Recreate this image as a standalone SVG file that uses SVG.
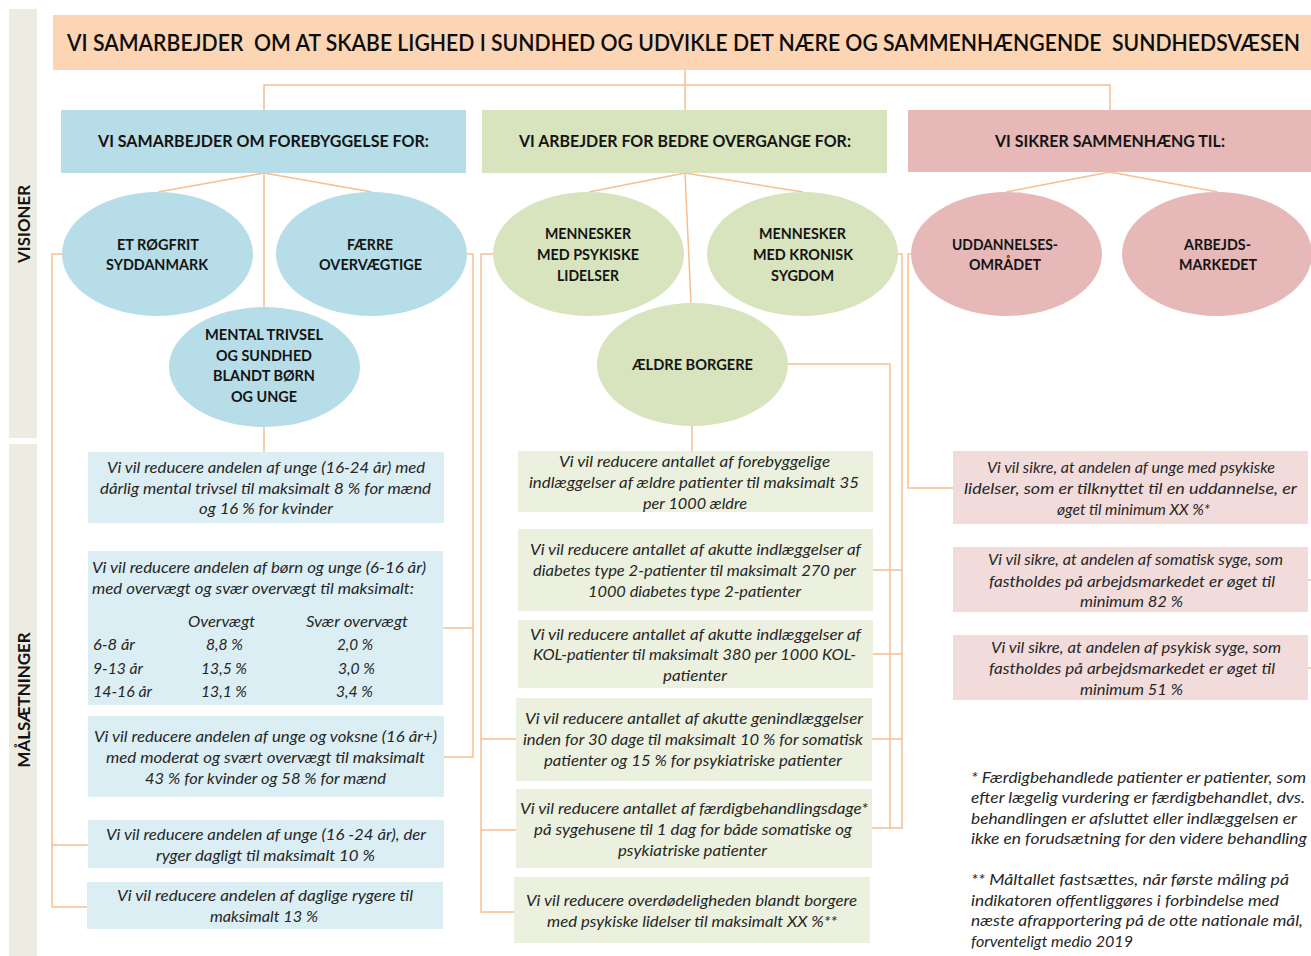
<svg xmlns="http://www.w3.org/2000/svg" width="1311" height="956" viewBox="0 0 1311 956">
<style>
.c{fill:none;stroke:#F7BF8F;stroke-width:1.5}
.band{fill:#EEECE1}
.t{font-family:Lato,"Liberation Sans",sans-serif;font-style:italic;font-size:15.5px;fill:#262626}
.e{font-family:Lato,"Liberation Sans",sans-serif;font-weight:bold;font-size:16px;fill:#141414}
.h{font-family:Lato,"Liberation Sans",sans-serif;font-weight:bold;font-size:17px;fill:#141414}
.s{font-family:Lato,"Liberation Sans",sans-serif;font-weight:bold;font-size:17.5px;fill:#141414}
.ttl{font-family:Lato,"Liberation Sans",sans-serif;font-weight:600;font-size:22px;fill:#0d0d0d;white-space:pre}
.hb{fill:#B7DEE8}.hg{fill:#D7E4BD}.hp{fill:#E6B9B8}
.bb{fill:#DBEEF4}.bg{fill:#EBF1DE}.bp{fill:#F2DCDB}
</style>
<rect width="1311" height="956" fill="#FFFFFF"/>

<g id="side-visioner">
<rect class="band" x="9" y="9" width="28" height="429"/>
<text class="s" transform="translate(30,224) rotate(-90)" x="-39" y="0" textLength="78" lengthAdjust="spacingAndGlyphs">VISIONER</text>
</g>
<g id="side-maalsaetninger">
<rect class="band" x="9" y="444" width="28" height="512"/>
<text class="s" transform="translate(30,700) rotate(-90)" x="-67.5" y="0" textLength="135" lengthAdjust="spacingAndGlyphs">MÅLSÆTNINGER</text>
</g>

<g id="connectors">
<path class="c" d="M685,70V110M264,110V85H1110V110"/>
<path class="c" d="M264,173L158,192M264,173L372,192M264,173V307"/>
<path class="c" d="M685,173L589,192M685,173L803,192M685,173L691,303"/>
<path class="c" d="M1110,172L1006,192M1110,172L1218,192"/>
<path class="c" d="M264,427V452"/>
<path class="c" d="M692,426V451"/>
<path class="c" d="M62,254H52V907H87M52,845H88"/>
<path class="c" d="M467,254H473V757H444M473,628H443"/>
<path class="c" d="M493,254H481V912H514M481,739H516M481,830H516"/>
<path class="c" d="M898,254H902V828H872M873,570H902M873,654H902M872,739H902"/>
<path class="c" d="M788,364H890V828"/>
<path class="c" d="M911,254H908V488H953"/>
<path class="c" d="M1308,580H1311M1308,668H1311"/>
</g>

<g id="title">
<rect x="53" y="15" width="1258" height="55" fill="#FCD5B5"/>
<text class="ttl" x="67" y="51" textLength="1233" lengthAdjust="spacingAndGlyphs">VI SAMARBEJDER  OM AT SKABE LIGHED I SUNDHED OG UDVIKLE DET NÆRE OG SAMMENHÆNGENDE  SUNDHEDSVÆSEN</text>
</g>

<g id="header-forebyggelse">
<rect class="hb" x="61" y="110" width="405" height="63"/>
<text class="h" x="98" y="147" textLength="331" lengthAdjust="spacingAndGlyphs">VI SAMARBEJDER OM FOREBYGGELSE FOR:</text>
</g>
<g id="header-overgange">
<rect class="hg" x="482" y="110" width="405" height="63"/>
<text class="h" x="519" y="147" textLength="332" lengthAdjust="spacingAndGlyphs">VI ARBEJDER FOR BEDRE OVERGANGE FOR:</text>
</g>
<g id="header-sammenhaeng">
<rect class="hp" x="908" y="110" width="403" height="62"/>
<text class="h" x="995" y="147" textLength="230" lengthAdjust="spacingAndGlyphs">VI SIKRER SAMMENHÆNG TIL:</text>
</g>

<g id="v-roegfrit">
<ellipse class="hb" cx="157.5" cy="254" rx="95.5" ry="62"/>
<text class="e" x="117" y="250" textLength="82" lengthAdjust="spacingAndGlyphs">ET RØGFRIT</text>
<text class="e" x="106" y="270" textLength="102" lengthAdjust="spacingAndGlyphs">SYDDANMARK</text>
</g>
<g id="v-overvaegtige">
<ellipse class="hb" cx="371.5" cy="254" rx="95.5" ry="62"/>
<text class="e" x="347" y="250" textLength="46" lengthAdjust="spacingAndGlyphs">FÆRRE</text>
<text class="e" x="319" y="270" textLength="103" lengthAdjust="spacingAndGlyphs">OVERVÆGTIGE</text>
</g>
<g id="v-mental">
<ellipse class="hb" cx="264.5" cy="367" rx="95.5" ry="60"/>
<text class="e" x="205" y="340" textLength="118" lengthAdjust="spacingAndGlyphs">MENTAL TRIVSEL</text>
<text class="e" x="216" y="361" textLength="96" lengthAdjust="spacingAndGlyphs">OG SUNDHED</text>
<text class="e" x="213" y="381" textLength="102" lengthAdjust="spacingAndGlyphs">BLANDT BØRN</text>
<text class="e" x="231" y="402" textLength="66" lengthAdjust="spacingAndGlyphs">OG UNGE</text>
</g>

<g id="v-psykiske">
<ellipse class="hg" cx="588.5" cy="254" rx="95.5" ry="62"/>
<text class="e" x="545" y="239" textLength="86" lengthAdjust="spacingAndGlyphs">MENNESKER</text>
<text class="e" x="537" y="260" textLength="102" lengthAdjust="spacingAndGlyphs">MED PSYKISKE</text>
<text class="e" x="557" y="281" textLength="62" lengthAdjust="spacingAndGlyphs">LIDELSER</text>
</g>
<g id="v-kronisk">
<ellipse class="hg" cx="802.5" cy="254" rx="95.5" ry="62"/>
<text class="e" x="759" y="239" textLength="87" lengthAdjust="spacingAndGlyphs">MENNESKER</text>
<text class="e" x="753" y="260" textLength="100" lengthAdjust="spacingAndGlyphs">MED KRONISK</text>
<text class="e" x="771" y="281" textLength="63" lengthAdjust="spacingAndGlyphs">SYGDOM</text>
</g>
<g id="v-aeldre">
<ellipse class="hg" cx="692.5" cy="364.5" rx="95.5" ry="61.5"/>
<text class="e" x="632" y="370" textLength="121" lengthAdjust="spacingAndGlyphs">ÆLDRE BORGERE</text>
</g>

<g id="v-uddannelse">
<ellipse class="hp" cx="1006.5" cy="254" rx="95.5" ry="62"/>
<text class="e" x="952" y="250" textLength="106" lengthAdjust="spacingAndGlyphs">UDDANNELSES-</text>
<text class="e" x="969" y="270" textLength="72" lengthAdjust="spacingAndGlyphs">OMRÅDET</text>
</g>
<g id="v-arbejdsmarked">
<ellipse class="hp" cx="1217" cy="254" rx="95" ry="62"/>
<text class="e" x="1184" y="250" textLength="67" lengthAdjust="spacingAndGlyphs">ARBEJDS-</text>
<text class="e" x="1179" y="270" textLength="78" lengthAdjust="spacingAndGlyphs">MARKEDET</text>
</g>

<g id="m-mental">
<rect class="bb" x="88" y="452" width="356" height="71"/>
<text class="t" x="107" y="472.5" textLength="318" lengthAdjust="spacingAndGlyphs">Vi vil reducere andelen af unge (16-24 år) med</text>
<text class="t" x="100" y="493.5" textLength="331" lengthAdjust="spacingAndGlyphs">dårlig mental trivsel til maksimalt 8 % for mænd</text>
<text class="t" x="199" y="514" textLength="134" lengthAdjust="spacingAndGlyphs">og 16 % for kvinder</text>
</g>
<g id="m-boern-overvaegt">
<rect class="bb" x="88" y="551" width="355" height="154"/>
<text class="t" x="92" y="573" textLength="334" lengthAdjust="spacingAndGlyphs">Vi vil reducere andelen af børn og unge (6-16 år)</text>
<text class="t" x="92" y="593.5" textLength="322" lengthAdjust="spacingAndGlyphs">med overvægt og svær overvægt til maksimalt:</text>
<text class="t" x="188" y="627" textLength="67" lengthAdjust="spacingAndGlyphs">Overvægt</text>
<text class="t" x="306" y="627" textLength="102" lengthAdjust="spacingAndGlyphs">Svær overvægt</text>
<text class="t" x="93" y="650" textLength="42" lengthAdjust="spacingAndGlyphs">6-8 år</text>
<text class="t" x="206" y="650" textLength="37" lengthAdjust="spacingAndGlyphs">8,8 %</text>
<text class="t" x="337" y="650" textLength="36" lengthAdjust="spacingAndGlyphs">2,0 %</text>
<text class="t" x="93" y="673.5" textLength="50" lengthAdjust="spacingAndGlyphs">9-13 år</text>
<text class="t" x="201" y="673.5" textLength="46" lengthAdjust="spacingAndGlyphs">13,5 %</text>
<text class="t" x="338" y="673.5" textLength="37" lengthAdjust="spacingAndGlyphs">3,0 %</text>
<text class="t" x="93" y="697" textLength="59" lengthAdjust="spacingAndGlyphs">14-16 år</text>
<text class="t" x="201" y="697" textLength="46" lengthAdjust="spacingAndGlyphs">13,1 %</text>
<text class="t" x="336" y="697" textLength="37" lengthAdjust="spacingAndGlyphs">3,4 %</text>
</g>
<g id="m-voksne-overvaegt">
<rect class="bb" x="88" y="716" width="356" height="81"/>
<text class="t" x="94" y="741.5" textLength="343" lengthAdjust="spacingAndGlyphs">Vi vil reducere andelen af unge og voksne (16 år+)</text>
<text class="t" x="106" y="762.5" textLength="319" lengthAdjust="spacingAndGlyphs">med moderat og svært overvægt til maksimalt</text>
<text class="t" x="145" y="783.5" textLength="241" lengthAdjust="spacingAndGlyphs">43 % for kvinder og 58 % for mænd</text>
</g>
<g id="m-unge-rygere">
<rect class="bb" x="88" y="820" width="356" height="48"/>
<text class="t" x="106" y="839.5" textLength="320" lengthAdjust="spacingAndGlyphs">Vi vil reducere andelen af unge (16 -24 år), der</text>
<text class="t" x="156" y="860.5" textLength="219" lengthAdjust="spacingAndGlyphs">ryger dagligt til maksimalt 10 %</text>
</g>
<g id="m-daglige-rygere">
<rect class="bb" x="87" y="882" width="356" height="47"/>
<text class="t" x="117" y="900.5" textLength="296" lengthAdjust="spacingAndGlyphs">Vi vil reducere andelen af daglige rygere til</text>
<text class="t" x="210" y="921.5" textLength="108" lengthAdjust="spacingAndGlyphs">maksimalt 13 %</text>
</g>

<g id="m-forebyggelige">
<rect class="bg" x="518" y="451" width="355" height="61"/>
<text class="t" x="559" y="466.5" textLength="271" lengthAdjust="spacingAndGlyphs">Vi vil reducere antallet af forebyggelige</text>
<text class="t" x="529" y="487.5" textLength="330" lengthAdjust="spacingAndGlyphs">indlæggelser af ældre patienter til maksimalt 35</text>
<text class="t" x="643" y="508.5" textLength="104" lengthAdjust="spacingAndGlyphs">per 1000 ældre</text>
</g>
<g id="m-diabetes">
<rect class="bg" x="518" y="529" width="355" height="82"/>
<text class="t" x="530" y="554.5" textLength="331" lengthAdjust="spacingAndGlyphs">Vi vil reducere antallet af akutte indlæggelser af</text>
<text class="t" x="533" y="576" textLength="323" lengthAdjust="spacingAndGlyphs">diabetes type 2-patienter til maksimalt 270 per</text>
<text class="t" x="588" y="597" textLength="213" lengthAdjust="spacingAndGlyphs">1000 diabetes type 2-patienter</text>
</g>
<g id="m-kol">
<rect class="bg" x="518" y="620" width="355" height="68"/>
<text class="t" x="530" y="639.5" textLength="331" lengthAdjust="spacingAndGlyphs">Vi vil reducere antallet af akutte indlæggelser af</text>
<text class="t" x="533" y="659.5" textLength="323" lengthAdjust="spacingAndGlyphs">KOL-patienter til  maksimalt 380 per 1000 KOL-</text>
<text class="t" x="663" y="681" textLength="64" lengthAdjust="spacingAndGlyphs">patienter</text>
</g>
<g id="m-genindlaeggelser">
<rect class="bg" x="516" y="698" width="356" height="83"/>
<text class="t" x="525" y="724" textLength="338" lengthAdjust="spacingAndGlyphs">Vi vil reducere antallet af akutte genindlæggelser</text>
<text class="t" x="523" y="745" textLength="340" lengthAdjust="spacingAndGlyphs">inden for 30 dage til maksimalt 10 % for somatisk</text>
<text class="t" x="544" y="766" textLength="298" lengthAdjust="spacingAndGlyphs">patienter og 15 % for psykiatriske patienter</text>
</g>
<g id="m-faerdigbehandling">
<rect class="bg" x="516" y="789" width="356" height="79"/>
<text class="t" x="520" y="813.5" textLength="348" lengthAdjust="spacingAndGlyphs">Vi vil reducere antallet af færdigbehandlingsdage*</text>
<text class="t" x="534" y="834.5" textLength="318" lengthAdjust="spacingAndGlyphs">på sygehusene til 1 dag for både somatiske og</text>
<text class="t" x="618" y="855.5" textLength="149" lengthAdjust="spacingAndGlyphs">psykiatriske patienter</text>
</g>
<g id="m-overdoedelighed">
<rect class="bg" x="514" y="877" width="356" height="66"/>
<text class="t" x="526" y="906" textLength="331" lengthAdjust="spacingAndGlyphs">Vi vil reducere overdødeligheden blandt borgere</text>
<text class="t" x="547" y="927" textLength="290" lengthAdjust="spacingAndGlyphs">med psykiske lidelser til maksimalt XX %**</text>
</g>

<g id="m-uddannelse">
<rect class="bp" x="953" y="451" width="355" height="73"/>
<text class="t" x="987" y="472.5" textLength="288" lengthAdjust="spacingAndGlyphs">Vi vil sikre, at andelen af unge med psykiske</text>
<text class="t" x="964" y="494" textLength="333" lengthAdjust="spacingAndGlyphs">lidelser, som er tilknyttet til en uddannelse, er</text>
<text class="t" x="1057" y="514.5" textLength="153" lengthAdjust="spacingAndGlyphs">øget til minimum XX %*</text>
</g>
<g id="m-somatisk">
<rect class="bp" x="953" y="547" width="355" height="65"/>
<text class="t" x="988" y="565" textLength="295" lengthAdjust="spacingAndGlyphs">Vi vil sikre, at andelen af somatisk syge, som</text>
<text class="t" x="989" y="586.5" textLength="286" lengthAdjust="spacingAndGlyphs">fastholdes på arbejdsmarkedet er øget til</text>
<text class="t" x="1080" y="607" textLength="103" lengthAdjust="spacingAndGlyphs">minimum 82 %</text>
</g>
<g id="m-psykisk">
<rect class="bp" x="953" y="635" width="355" height="65"/>
<text class="t" x="991" y="652.5" textLength="290" lengthAdjust="spacingAndGlyphs">Vi vil sikre, at andelen af psykisk syge, som</text>
<text class="t" x="989" y="674" textLength="286" lengthAdjust="spacingAndGlyphs">fastholdes på arbejdsmarkedet er øget til</text>
<text class="t" x="1080" y="695" textLength="103" lengthAdjust="spacingAndGlyphs">minimum 51 %</text>
</g>

<g id="footnotes">
<text class="t" x="971" y="782.5" textLength="335" lengthAdjust="spacingAndGlyphs">* Færdigbehandlede patienter er patienter, som</text>
<text class="t" x="971" y="803" textLength="334" lengthAdjust="spacingAndGlyphs">efter lægelig vurdering er færdigbehandlet, dvs.</text>
<text class="t" x="971" y="823.5" textLength="326" lengthAdjust="spacingAndGlyphs">behandlingen er afsluttet eller indlæggelsen er</text>
<text class="t" x="971" y="844" textLength="336" lengthAdjust="spacingAndGlyphs">ikke en forudsætning for den videre behandling</text>
<text class="t" x="971" y="884.5" textLength="318" lengthAdjust="spacingAndGlyphs">** Måltallet fastsættes, når første måling på</text>
<text class="t" x="971" y="905.5" textLength="308" lengthAdjust="spacingAndGlyphs">indikatoren offentliggøres i forbindelse med</text>
<text class="t" x="971" y="926" textLength="332" lengthAdjust="spacingAndGlyphs">næste afrapportering på de otte nationale mål,</text>
<text class="t" x="971" y="946.5" textLength="162" lengthAdjust="spacingAndGlyphs">forventeligt medio 2019</text>
</g>
</svg>
